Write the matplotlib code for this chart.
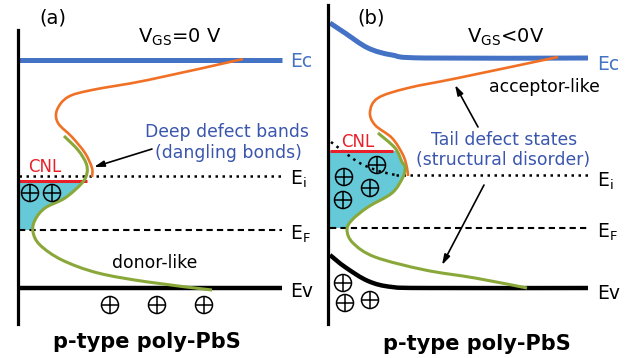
import numpy as np
import matplotlib.pyplot as plt
from matplotlib.path import Path
from matplotlib.patches import PathPatch, Rectangle

# ---- schematic data (pixel coordinates of the original figure) ----
# panel (a)
wall_a = [18, 30, 324]                     # x, top, bottom
ec_a = [19, 282, 60]                       # x0, x1, y
ei_a, ef_a, ev_a = 176, 230, 288
cnl_a = [19, 87, 181]
orange_a_x = [243, 148, 92, 68, 57, 58, 72, 85, 92, 92]
orange_a_y = [59, 80, 90, 97, 110, 123, 137, 153, 168, 177]
green_a_x = [64, 78, 86, 87, 82, 65, 45, 35, 33, 40, 62, 98, 148, 212]
green_a_y = [136, 150, 163, 173, 183, 198, 208, 220, 232, 245, 260, 273, 282, 290]
plus_a_x = [30, 52, 110, 157, 204]
plus_a_y = [193, 193, 305, 305, 305]

# panel (b)
wall_b = [328, 5, 324]
ec_b_x = [330, 345, 368, 392, 425, 588]
ec_b_y = [23, 33, 48, 55, 58, 58]
ev_b_x = [330, 345, 368, 392, 430, 588]
ev_b_y = [255, 267, 281, 287, 288, 288]
ei_b_x = [331, 348, 358, 368, 382, 396]
ei_b_y = [142, 155, 162, 167, 172, 175]
ei_b, ef_b = 175, 228
cnl_b = [330, 393, 151]
orange_b_x = [558, 458, 408, 378, 370, 375, 392, 403, 407, 408]
orange_b_y = [57, 78, 88, 98, 112, 125, 138, 155, 168, 176]
green_b_x = [378, 395, 402, 405, 403, 392, 368, 352, 347, 353, 375, 425, 475, 527]
green_b_y = [133, 148, 162, 167, 177, 193, 207, 220, 230, 243, 257, 270, 278, 288]
plus_b_x = [377, 344, 370, 343, 343, 345, 370]
plus_b_y = [165, 177, 188, 200, 283, 303, 300]

BLUE = '#4472c4'
TBLUE = '#3a56ad'
ORANGE = '#f07125'
GREEN = '#8aa83a'
RED = '#e8202a'
CYAN = '#66c9d8'


def smooth(xs, ys):
    pts = np.column_stack([xs, ys]).astype(float)
    n = len(pts)
    verts = [pts[0]]
    codes = [Path.MOVETO]
    for i in range(n - 1):
        p0 = pts[max(i - 1, 0)]
        p1 = pts[i]
        p2 = pts[i + 1]
        p3 = pts[min(i + 2, n - 1)]
        verts += [p1 + (p2 - p0) / 6, p2 - (p3 - p1) / 6, p2]
        codes += [Path.CURVE4] * 3
    return verts, codes


def curve(ax, xs, ys, **kw):
    v, c = smooth(xs, ys)
    ax.add_patch(PathPatch(Path(v, c), fill=False, capstyle='butt', **kw))


def fill_left(ax, xs, ys, x_left, y_top, y_bot):
    v, c = smooth(xs, ys)
    v = v + [(x_left, ys[-1]), (x_left, ys[0]), (0, 0)]
    c = c + [Path.LINETO, Path.LINETO, Path.CLOSEPOLY]
    p = PathPatch(Path(v, c), facecolor=CYAN, edgecolor='none', zorder=1)
    ax.add_patch(p)
    p.set_clip_path(Rectangle((x_left, y_top), 300, y_bot - y_top, transform=ax.transData))


def holes(ax, xs, ys):
    # circled plus = hollow circle + plus marker
    ax.scatter(xs, ys, s=150, facecolors='none', edgecolors='black', linewidths=1.1, zorder=6)
    ax.scatter(xs, ys, s=120, marker='+', color='black', linewidths=1.1, zorder=6)


fig = plt.figure(figsize=(6.34, 3.58), dpi=100)
ax = fig.add_axes([0, 0, 1, 1])
ax.set_xlim(0, 634)
ax.set_ylim(358, 0)
ax.axis('off')

dots = dict(color='black', lw=1.8, linestyle=(0, (1, 1.8)), zorder=3)
dash = dict(color='black', lw=1.5, linestyle=(0, (3, 2)), zorder=3)
fs = 12.4
arrow = dict(arrowstyle='-|>,head_length=0.6,head_width=0.18', color='black', lw=1.2,
             shrinkA=0, shrinkB=0)

# ---------------- panel (a) ----------------
fill_left(ax, green_a_x, green_a_y, wall_a[0], cnl_a[2], ef_a)
ax.plot([wall_a[0], wall_a[0]], [wall_a[1], wall_a[2]], color='black', lw=2.3, zorder=5)
ax.plot(ec_a[:2], [ec_a[2]] * 2, color=BLUE, lw=3.6, solid_capstyle='butt')
ax.plot([19, 282], [ei_a] * 2, **dots)
ax.plot([19, 282], [ef_a] * 2, **dash)
ax.plot([19, 282], [ev_a] * 2, color='black', lw=3.2, solid_capstyle='butt')
ax.plot(cnl_a[:2], [cnl_a[2]] * 2, color=RED, lw=2.2, solid_capstyle='butt', zorder=4)
curve(ax, orange_a_x, orange_a_y, color=ORANGE, lw=1.9, zorder=3)
curve(ax, green_a_x, green_a_y, color=GREEN, lw=2.2, zorder=4)
holes(ax, plus_a_x, plus_a_y)

ax.text(53, 24, '(a)', fontsize=14, ha='center', va='baseline')
ax.text(180, 43, r'V$_\mathregular{GS}$=0 V', fontsize=14, ha='center', va='baseline')
ax.text(290, 67, 'Ec', fontsize=13.5, color=BLUE, va='baseline')
ax.text(290, 185, r'E$_\mathregular{i}$', fontsize=13.5, va='baseline')
ax.text(290, 240, r'E$_\mathregular{F}$', fontsize=13.5, va='baseline')
ax.text(290, 297, 'Ev', fontsize=13.5, va='baseline')
ax.text(45, 172, 'CNL', fontsize=12, color=RED, ha='center', va='baseline')
ax.text(227, 137, 'Deep defect bands', fontsize=fs, color=TBLUE, ha='center', va='baseline')
ax.text(228, 158, '(dangling bonds)', fontsize=fs, color=TBLUE, ha='center', va='baseline')
ax.text(155, 268, 'donor-like', fontsize=fs, ha='center', va='baseline')
ax.text(147, 348, 'p-type poly-PbS', fontsize=15, fontweight='bold', ha='center', va='baseline')
ax.annotate('', xy=(94, 167), xytext=(152, 149), arrowprops=arrow)

# ---------------- panel (b) ----------------
fill_left(ax, green_b_x, green_b_y, 330, cnl_b[2], ef_b)
ax.plot([wall_b[0], wall_b[0]], [wall_b[1], wall_b[2]], color='black', lw=2.3, zorder=5)
curve(ax, ec_b_x, ec_b_y, color=BLUE, lw=3.6, zorder=2)
curve(ax, ev_b_x, ev_b_y, color='black', lw=3.2, zorder=2)
curve(ax, ei_b_x, ei_b_y, **dots)
ax.plot([396, 590], [ei_b] * 2, **dots)
ax.plot([330, 590], [ef_b] * 2, **dash)
ax.plot(cnl_b[:2], [cnl_b[2]] * 2, color=RED, lw=2.2, solid_capstyle='butt', zorder=4)
curve(ax, orange_b_x, orange_b_y, color=ORANGE, lw=1.9, zorder=3)
curve(ax, green_b_x, green_b_y, color=GREEN, lw=2.2, zorder=4)
holes(ax, plus_b_x, plus_b_y)

ax.text(371, 24, '(b)', fontsize=14, ha='center', va='baseline')
ax.text(506, 43, r'V$_\mathregular{GS}$<0V', fontsize=14, ha='center', va='baseline')
ax.text(597, 70, 'Ec', fontsize=13.5, color=BLUE, va='baseline')
ax.text(597, 187, r'E$_\mathregular{i}$', fontsize=13.5, va='baseline')
ax.text(597, 238, r'E$_\mathregular{F}$', fontsize=13.5, va='baseline')
ax.text(597, 299, 'Ev', fontsize=13.5, va='baseline')
ax.text(358, 147, 'CNL', fontsize=12, color=RED, ha='center', va='baseline')
ax.text(544, 92, 'acceptor-like', fontsize=fs, ha='center', va='baseline')
ax.text(504, 145, 'Tail defect states', fontsize=fs, color=TBLUE, ha='center', va='baseline')
ax.text(503, 165, '(structural disorder)', fontsize=fs, color=TBLUE, ha='center', va='baseline')
ax.text(477, 350, 'p-type poly-PbS', fontsize=15, fontweight='bold', ha='center', va='baseline')
ax.annotate('', xy=(455, 85), xytext=(478, 127), arrowprops=arrow)
ax.annotate('', xy=(442, 265), xytext=(484, 185), arrowprops=arrow)

fig.savefig('out.png', dpi=100)
